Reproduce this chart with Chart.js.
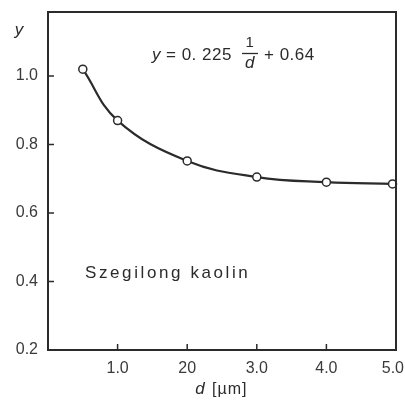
<!DOCTYPE html>
<html>
<head>
<meta charset="utf-8">
<script src="https://cdn.jsdelivr.net/npm/chart.js@4"></script>
<style>
  html, body { margin: 0; padding: 0; background: #fff; }
  #wrap { width: 405px; height: 405px; }
</style>
</head>
<body>
<div id="wrap"><canvas id="kaolinChart" width="405" height="405"></canvas></div>
<script>
// measured points: particle size d [um] vs. y
const dValues = [0.5, 1.0, 2.0, 3.0, 4.0, 4.95];
const yValues = [1.02, 0.87, 0.752, 0.705, 0.69, 0.685];

const xTickValues = [1, 2, 3, 4, 5];
const xTickLabels = ['1.0', '20', '3.0', '4.0', '5.0'];
const yTickValues = [0.2, 0.4, 0.6, 0.8, 1.0];
const yTickLabels = ['0.2', '0.4', '0.6', '0.8', '1.0'];

const INK = '#2b2b2b';
const FONT = '"Liberation Sans", Arial, sans-serif';

// frame round the plot + short inward tick marks + free text
const framePlugin = {
    id: 'frame',
    afterDraw(chart) {
        const { ctx, chartArea: a, scales } = chart;
        ctx.save();
        ctx.strokeStyle = INK;
        ctx.lineWidth = 2;
        ctx.strokeRect(a.left, a.top, a.right - a.left, a.bottom - a.top);

        ctx.lineWidth = 1.5;
        ctx.beginPath();
        xTickValues.slice(0, 4).forEach(v => {
            const px = scales.x.getPixelForValue(v);
            ctx.moveTo(px, a.bottom);
            ctx.lineTo(px, a.bottom - 6);
        });
        yTickValues.slice(1).forEach(v => {
            const py = scales.y.getPixelForValue(v);
            ctx.moveTo(a.left, py);
            ctx.lineTo(a.left + 6, py);
        });
        ctx.stroke();

        // x tick labels; the last one is kept inside the canvas
        ctx.fillStyle = '#3a3a3a';
        ctx.font = '16px ' + FONT;
        ctx.textBaseline = 'middle';
        xTickValues.forEach((v, i) => {
            const px = scales.x.getPixelForValue(v);
            const w = ctx.measureText(xTickLabels[i]).width;
            const cx = Math.min(px, chart.width - 1 - w / 2);
            ctx.textAlign = 'center';
            ctx.fillText(xTickLabels[i], cx, a.bottom + 19);
        });

        ctx.fillStyle = INK;
        ctx.textBaseline = 'alphabetic';

        // axis titles
        ctx.font = 'italic 17px ' + FONT;
        ctx.textAlign = 'center';
        ctx.fillText('y', 19, 35);
        ctx.fillText('d', 200, 394);
        ctx.font = '16px ' + FONT;
        ctx.letterSpacing = '1px';
        ctx.textAlign = 'left';
        ctx.fillText('[\u00b5m]', 212, 394);

        // fitted equation
        ctx.letterSpacing = '0.5px';
        ctx.font = 'italic 17px ' + FONT;
        ctx.fillText('y', 152, 60);
        ctx.font = '17px ' + FONT;
        ctx.fillText('= 0. 225', 166, 60);
        ctx.textAlign = 'center';
        ctx.font = '15px ' + FONT;
        ctx.fillText('1', 250, 47);
        ctx.font = 'italic 17px ' + FONT;
        ctx.fillText('d', 250, 68);
        ctx.lineWidth = 1.3;
        ctx.beginPath();
        ctx.moveTo(242, 53.5);
        ctx.lineTo(258, 53.5);
        ctx.stroke();
        ctx.textAlign = 'left';
        ctx.font = '17px ' + FONT;
        ctx.fillText('+ 0.64', 264, 60);

        // sample name
        ctx.letterSpacing = '2.6px';
        ctx.font = '17px ' + FONT;
        ctx.fillText('Szegilong kaolin', 85, 278);
        ctx.restore();
    }
};

new Chart(document.getElementById('kaolinChart'), {
    type: 'scatter',
    data: {
        datasets: [{
            data: dValues.map((d, i) => ({ x: d, y: yValues[i] })),
            showLine: true,
            tension: 0.4,
            borderColor: INK,
            borderWidth: 2.2,
            pointRadius: 4,
            pointBackgroundColor: '#fff',
            pointBorderColor: INK,
            pointBorderWidth: 1.5,
            clip: false
        }]
    },
    options: {
        responsive: false,
        animation: false,
        layout: { padding: { top: 12, right: 9, left: 0, bottom: 0 } },
        plugins: { legend: { display: false }, tooltip: { enabled: false } },
        scales: {
            x: {
                type: 'linear',
                min: 0,
                max: 5,
                afterBuildTicks: s => { s.ticks = xTickValues.map(v => ({ value: v })); },
                afterFit: s => { s.height = 55; s.paddingLeft = 0; s.paddingRight = 0; },
                grid: { display: false, drawTicks: false },
                border: { display: false },
                ticks: { display: false }
            },
            y: {
                type: 'linear',
                min: 0.2,
                max: 1.187,
                afterBuildTicks: s => { s.ticks = yTickValues.map(v => ({ value: v })); },
                afterFit: s => { s.width = 48; s.paddingTop = 0; s.paddingBottom = 0; },
                grid: { display: false, drawTicks: false },
                border: { display: false },
                ticks: {
                    padding: 10,
                    color: '#3a3a3a',
                    font: { family: FONT, size: 16 },
                    callback: v => yTickLabels[yTickValues.indexOf(v)]
                }
            }
        }
    },
    plugins: [framePlugin]
});
</script>
</body>
</html>
